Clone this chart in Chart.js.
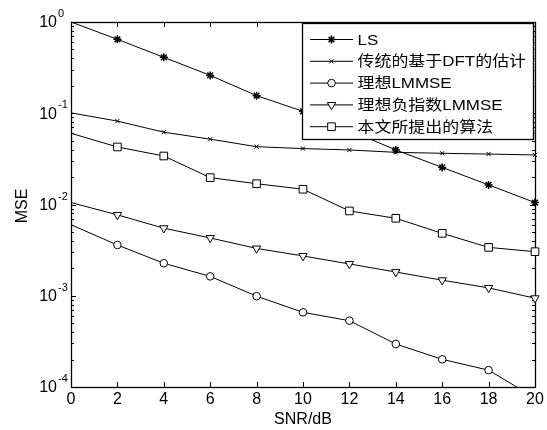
<!DOCTYPE html>
<html>
<head>
<meta charset="utf-8">
<script src="https://cdn.jsdelivr.net/npm/chart.js@4.4.1/dist/chart.umd.min.js"></script>
<style>
  html, body { margin: 0; padding: 0; background: #fff; }
</style>
</head>
<body>
<canvas id="mseChart" width="547" height="430"></canvas>
<script>
// SNR (dB) and MSE values
const snr = [0, 2, 4, 6, 8, 10, 12, 14, 16, 18, 20];
const lsMse = [1, 0.646, 0.41, 0.26, 0.156, 0.105, 0.065, 0.0396, 0.0255, 0.0164, 0.0105];
const dftMse = [0.101, 0.082, 0.062, 0.052, 0.043, 0.041, 0.0396, 0.0373, 0.0364, 0.0357, 0.0349];
const lmmseMse = [0.006, 0.0036, 0.00227, 0.00163, 0.00099, 0.000658, 0.000533, 0.000296, 0.000201, 0.000153, 0.000076];
const negExpMse = [0.0105, 0.0077, 0.0055, 0.0043, 0.0033, 0.00273, 0.00223, 0.00182, 0.00148, 0.00122, 0.00094];
const proposedMse = [0.0603, 0.0427, 0.034, 0.0197, 0.0169, 0.0147, 0.0085, 0.00706, 0.00483, 0.00339, 0.00304];
const seriesNames = ['LS', '传统的基于DFT的估计', '理想LMMSE', '理想负指数LMMSE', '本文所提出的算法'];
const xTicks = [0, 2, 4, 6, 8, 10, 12, 14, 16, 18, 20];
const yTickExps = [0, -1, -2, -3, -4];

const latinFont = '"Liberation Sans", Arial, sans-serif';
const cjkFont = '"Liberation Sans", "Noto Sans CJK SC", sans-serif';

function series(label, values, style, radius, extra) {
    return Object.assign({
        label: label,
        data: snr.map((x, i) => ({ x: x, y: values[i] })),
        borderColor: '#000',
        borderWidth: 1,
        backgroundColor: '#fff',
        pointStyle: style,
        pointBorderColor: '#000',
        pointBackgroundColor: '#fff',
        pointBorderWidth: 1,
        // no marker on the first point (x = 0)
        pointRadius: ctx => ctx.dataIndex === 0 ? 0 : radius,
        legendRadius: radius,
        tension: 0,
        clip: false
    }, extra || {});
}

const axesPlugin = {
    id: 'matlabAxes',
    beforeDatasetsDraw(chart) {
        const ctx = chart.ctx;
        const a = chart.chartArea;
        const xs = chart.scales.x, ys = chart.scales.y;
        ctx.save();
        ctx.strokeStyle = '#000';
        ctx.lineWidth = 1;
        ctx.beginPath();
        // x ticks, top and bottom, pointing inward
        xTicks.forEach(v => {
            const px = Math.round(xs.getPixelForValue(v)) + 0.5;
            ctx.moveTo(px, a.bottom); ctx.lineTo(px, a.bottom - 5);
            ctx.moveTo(px, a.top); ctx.lineTo(px, a.top + 5);
        });
        // y major and minor ticks
        yTickExps.forEach(e => {
            for (let k = 1; k <= 9; k++) {
                if (e === 0 && k > 1) break;
                const py = Math.round(ys.getPixelForValue(k * Math.pow(10, e))) + 0.5;
                const len = k === 1 ? 5 : 3;
                ctx.moveTo(a.left, py); ctx.lineTo(a.left + len, py);
                ctx.moveTo(a.right, py); ctx.lineTo(a.right - len, py);
            }
        });
        ctx.stroke();
        ctx.lineWidth = 1.3;
        ctx.strokeRect(Math.round(a.left) + 0.5, Math.round(a.top) + 0.5,
            Math.round(a.right - a.left), Math.round(a.bottom - a.top));

        // tick labels
        ctx.fillStyle = '#000';
        ctx.font = '16px ' + latinFont;
        ctx.textAlign = 'center';
        ctx.textBaseline = 'middle';
        xTicks.forEach(v => ctx.fillText(String(v), xs.getPixelForValue(v), a.bottom + 13));
        yTickExps.forEach(e => {
            const py = ys.getPixelForValue(Math.pow(10, e));
            ctx.font = '16px ' + latinFont;
            ctx.textAlign = 'right';
            ctx.fillText('10', a.left - 14, py + 1);
            ctx.font = '11px ' + latinFont;
            ctx.textAlign = 'left';
            ctx.fillText(e === 0 ? '0' : '-' + Math.abs(e), a.left - 13, py - 8);
        });

        // axis titles
        ctx.font = '16px ' + latinFont;
        ctx.textAlign = 'center';
        ctx.fillText('SNR/dB', (a.left + a.right) / 2, 420);
        ctx.translate(22.5, 206);
        ctx.rotate(-Math.PI / 2);
        ctx.fillText('MSE', 0, 0);
        ctx.restore();
    }
};

const legendPlugin = {
    id: 'boxLegend',
    afterDatasetsDraw(chart) {
        const ctx = chart.ctx;
        const x0 = 302, y0 = 23, w = 231, h = 116;
        ctx.save();
        ctx.fillStyle = '#fff';
        ctx.fillRect(x0, y0, w, h);
        ctx.strokeStyle = '#000';
        ctx.lineWidth = 1.3;
        ctx.strokeRect(x0 + 0.5, y0 + 0.5, w, h);
        chart.data.datasets.forEach((ds, i) => {
            const y = 39.5 + i * 21.8;
            ctx.strokeStyle = '#000';
            ctx.lineWidth = 1;
            ctx.beginPath();
            ctx.moveTo(310, y); ctx.lineTo(353, y);
            ctx.stroke();
            ctx.fillStyle = '#fff';
            ctx.lineWidth = ds.pointBorderWidth;
            Chart.helpers.drawPoint(ctx, {
                pointStyle: ds.pointStyle,
                rotation: ds.pointRotation || 0,
                radius: ds.legendRadius,
                borderWidth: ds.pointBorderWidth
            }, 331.5, y);
            // the original legend text is a little wider than it is tall
            ctx.save();
            ctx.translate(357.5, y + 1);
            ctx.scale(1.13, 1);
            ctx.fillStyle = '#000';
            ctx.font = '15px ' + cjkFont;
            ctx.textAlign = 'left';
            ctx.textBaseline = 'middle';
            ctx.fillText(ds.label, 0, 0);
            ctx.restore();
        });
        ctx.restore();
    }
};

new Chart(document.getElementById('mseChart'), {
    type: 'line',
    data: {
        datasets: [
            series(seriesNames[0], lsMse, 'star', 4, { pointBorderWidth: 1.5 }),
            series(seriesNames[1], dftMse, 'crossRot', 3),
            series(seriesNames[2], lmmseMse, 'circle', 3.8, { clip: { left: 10, top: 10, right: 10, bottom: 0 } }),
            series(seriesNames[3], negExpMse, 'triangle', 4.8, { pointRotation: 180 }),
            series(seriesNames[4], proposedMse, 'rect', 5.4)
        ]
    },
    options: {
        responsive: false,
        devicePixelRatio: 1,
        animation: false,
        layout: { padding: { left: 71, right: 12, top: 22, bottom: 43 } },
        plugins: { legend: { display: false }, tooltip: { enabled: false } },
        scales: {
            x: { type: 'linear', min: 0, max: 20, display: false },
            y: { type: 'logarithmic', min: 0.0001, max: 1, display: false }
        }
    },
    plugins: [axesPlugin, legendPlugin]
});
</script>
</body>
</html>
